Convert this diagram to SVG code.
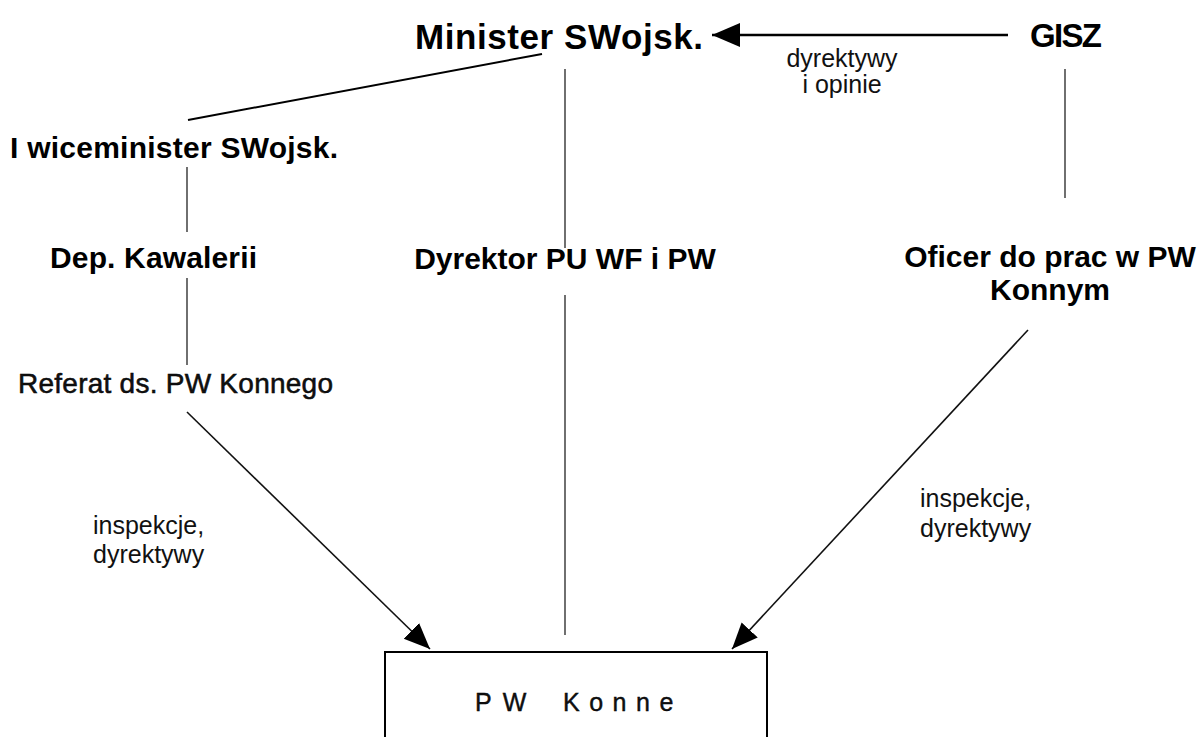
<svg xmlns="http://www.w3.org/2000/svg" width="1202" height="737" viewBox="0 0 1202 737">
  <defs>
    <style>
      .title { font-family: "Liberation Sans", Arial, sans-serif; font-weight: bold; fill: #000; }
      .label { font-family: "Liberation Sans", Arial, sans-serif; font-weight: normal; fill: #111; }
      .thin { stroke: #222; stroke-width: 1.3; fill: none; }
      .arrow { stroke: #111; stroke-width: 1.6; fill: none; }
    </style>
    <marker id="head-big" markerUnits="userSpaceOnUse" markerWidth="30" markerHeight="26" refX="28" refY="12" orient="auto">
      <path d="M0,0 L28,12 L0,24 Z" fill="#000"/>
    </marker>
    <marker id="head" markerUnits="userSpaceOnUse" markerWidth="28" markerHeight="24" refX="26" refY="11" orient="auto">
      <path d="M0,0 L26,11 L0,22 Z" fill="#000"/>
    </marker>
  </defs>
  <rect width="1202" height="737" fill="#fff"/>

  <!-- connectors -->
  <g id="connectors">
    <line x1="1008" y1="35" x2="712" y2="35" stroke="#000" stroke-width="2.6" marker-end="url(#head-big)"/>
    <line x1="542" y1="54" x2="188" y2="120" stroke="#000" stroke-width="2"/>
    <line class="thin" x1="565" y1="69" x2="565" y2="248"/>
    <line class="thin" x1="565" y1="295" x2="565" y2="635"/>
    <line class="thin" x1="1065" y1="69" x2="1065" y2="198"/>
    <line class="thin" x1="187" y1="167" x2="187" y2="232"/>
    <line class="thin" x1="187" y1="278" x2="187" y2="365"/>
    <line class="arrow" x1="187" y1="412" x2="430" y2="649" marker-end="url(#head)"/>
    <line class="arrow" x1="1028" y1="330" x2="732" y2="649" marker-end="url(#head)"/>
    <text class="label" font-size="25" x="842" y="67" text-anchor="middle">dyrektywy</text>
    <text class="label" font-size="25" x="842" y="93" text-anchor="middle">i opinie</text>
    <text class="label" font-size="25" x="93" y="534">inspekcje,</text>
    <text class="label" font-size="25" x="93" y="563">dyrektywy</text>
    <text class="label" font-size="25" x="920" y="507">inspekcje,</text>
    <text class="label" font-size="25" x="920" y="537">dyrektywy</text>
  </g>

  <g id="minister">
    <text class="title" font-size="35" x="415" y="49" textLength="288">Minister SWojsk.</text>
  </g>
  <g id="gisz">
    <text class="title" font-size="33" x="1030" y="47" textLength="72">GISZ</text>
  </g>
  <g id="wiceminister">
    <text class="title" font-size="30" x="10" y="158" textLength="328">I wiceminister SWojsk.</text>
  </g>
  <g id="dep-kawalerii">
    <text class="title" font-size="30" x="50" y="268" textLength="207">Dep. Kawalerii</text>
  </g>
  <g id="referat">
    <text class="label" font-size="28" x="18" y="393" textLength="315" stroke="#000" stroke-width="0.5">Referat ds. PW Konnego</text>
  </g>
  <g id="dyrektor">
    <text class="title" font-size="30" x="565" y="269" text-anchor="middle">Dyrektor PU WF i PW</text>
  </g>
  <g id="oficer">
    <text class="title" font-size="30" x="1050" y="267" text-anchor="middle">Oficer do prac w PW</text>
    <text class="title" font-size="30" x="1050" y="300" text-anchor="middle">Konnym</text>
  </g>
  <g id="pw-konne">
    <rect x="385" y="652" width="382" height="100" fill="#fff" stroke="#000" stroke-width="2"/>
    <text class="label" font-size="25" y="711" stroke="#000" stroke-width="0.4">
      <tspan x="475" letter-spacing="11">PW</tspan><tspan x="563" letter-spacing="9.5">Konne</tspan>
    </text>
  </g>
</svg>
